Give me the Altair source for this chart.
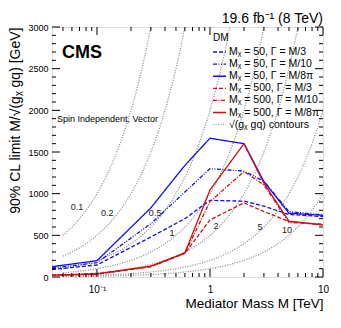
import altair as alt
import pandas as pd

W, H = 271, 250
FONT = "Liberation Sans"

# ---- data ----
mass = [0.04, 0.1, 0.3, 0.6, 1.0, 2.0, 3.0, 5.0, 10.0]
blue_w3 = [90, 144, 480, 700, 920, 910, 850, 750, 725]
blue_w10 = [108, 172, 640, 1020, 1300, 1270, 1150, 785, 745]
blue_w8pi = [124, 196, 830, 1340, 1665, 1600, 1145, 765, 740]
red_w3 = [20, 34, 124, 284, 685, 890, 785, 665, 625]
red_w10 = [20, 36, 126, 286, 905, 1265, 1105, 655, 635]
red_w8pi = [22, 38, 130, 290, 1045, 1600, 1125, 670, 625]

series_names = [
    "Mᵪ = 50, Γ = M/3",
    "Mᵪ = 50, Γ = M/10",
    "Mᵪ = 50, Γ = M/8π",
    "Mᵪ = 500, Γ = M/3",
    "Mᵪ = 500, Γ = M/10",
    "Mᵪ = 500, Γ = M/8π",
    "√(gᵪ gq) contours",
]
series_values = [blue_w3, blue_w10, blue_w8pi, red_w3, red_w10, red_w8pi]
colors = ["#1010e8", "#1010e8", "#1010e8", "#d01010", "#d01010", "#d01010", "#8a8a8a"]
dashes = [[4, 2], [4, 1.5, 1, 1.5, 1, 1.5], [1, 0], [4, 2], [4, 1.5, 1, 1.5], [1, 0], [1, 1.5]]
widths = [1.3, 1.3, 1.6, 1.3, 1.3, 1.6, 0.8]

contour_g = [0.1, 0.2, 0.5, 1, 2, 5, 10]
contour_text = ["0.1", "0.2", "0.5", "1", "2", "5", "10"]
contour_label_m = [0.0665, 0.123, 0.327, 0.461, 1.13, 2.77, 4.8]
contour_label_v = [840, 768, 768, 528, 612, 600, 564]

x_major = [0.1, 1, 10]
x_minor = [0.05, 0.06, 0.07, 0.08, 0.09, 0.2, 0.3, 0.4, 0.5, 0.6, 0.7, 0.8, 0.9,
           2, 3, 4, 5, 6, 7, 8, 9]
y_major = [0, 500, 1000, 1500, 2000, 2500, 3000]
y_minor = [v for v in range(0, 3001, 100) if v % 500 != 0]

# ---- tables ----
rows = []
for name, vals in zip(series_names[:6], series_values):
    for m, v in zip(mass, vals):
        rows.append({"M": m, "limit": v, "series": name})
curves = pd.DataFrame(rows)
contours = pd.DataFrame({"g": contour_g})
clabels = pd.DataFrame({"M": contour_label_m, "limit": contour_label_v, "txt": contour_text})

xscale = alt.Scale(type="log", domain=[0.04, 10], nice=False)
yscale = alt.Scale(domain=[0, 3000], nice=False, zero=False)

x_axis = alt.Axis(values=x_major, labelExpr="datum.value < 0.5 ? '10⁻¹' : (datum.value < 5 ? '1' : '10')",
                  ticks=False, domain=False, grid=False, labelFlush=False,
                  labelFontSize=10, labelPadding=7, labelFont=FONT, labelColor="black",
                  title="Mediator Mass M [TeV]", titleAnchor="end", titleFontSize=13.5,
                  titleFontWeight="normal", titleFont=FONT, titleColor="black",
                  titleY=30, titleBaseline="alphabetic")
y_axis = alt.Axis(values=y_major, format="d", ticks=False, domain=False, grid=False, labelFlush=False,
                  labelFontSize=9, labelPadding=4, labelFont=FONT, labelColor="black",
                  title="90% CL limit M/√(gᵪ gq) [GeV]", titleAnchor="end", titleFontSize=14,
                  titleFontWeight="normal", titleFont=FONT, titleColor="black",
                  titleX=-30)

def X(field="M"):
    return alt.X(f"{field}:Q", scale=xscale, axis=x_axis)

def Y(field="limit"):
    return alt.Y(f"{field}:Q", scale=yscale, axis=y_axis)

color = alt.Color("series:N", scale=alt.Scale(domain=series_names, range=colors), legend=None)
dash = alt.StrokeDash("series:N", scale=alt.Scale(domain=series_names, range=dashes), legend=None)
width = alt.StrokeWidth("series:N", scale=alt.Scale(domain=series_names, range=widths), legend=None)

contour_layer = alt.Chart(contours).transform_calculate(
    t="sequence(0, 101)"
).transform_flatten(["t"]).transform_calculate(
    M="0.05 * pow(200, datum.t / 100)",
    limit="1000 * datum.M / datum.g",
    series="'" + series_names[6] + "'",
).mark_line(clip=True).encode(
    x=X(), y=Y(), color=color, strokeDash=dash, strokeWidth=width, detail="g:N",
    order="t:Q",
)

curve_layer = alt.Chart(curves).mark_line(clip=True).encode(
    x=X(), y=Y(), color=color, strokeDash=dash, strokeWidth=width,
)

label_layer = alt.Chart(clabels).mark_text(font=FONT, fontSize=9, color="#222", align="center",
                                           baseline="middle").encode(x=X(), y=Y(), text="txt:N")

xmaj = pd.DataFrame({"M": x_major})
xmin = pd.DataFrame({"M": x_minor})
ymaj = pd.DataFrame({"limit": y_major})
ymin = pd.DataFrame({"limit": y_minor})

def xticks(df, ln):
    base = alt.Chart(df).mark_rule(color="black", strokeWidth=1)
    return [base.encode(x=X(), y=alt.value(H), y2=alt.value(H - ln)),
            base.encode(x=X(), y=alt.value(0), y2=alt.value(ln))]

def yticks(df, ln):
    base = alt.Chart(df).mark_rule(color="black", strokeWidth=1)
    return [base.encode(y=Y(), x=alt.value(0), x2=alt.value(ln)),
            base.encode(y=Y(), x=alt.value(W), x2=alt.value(W - ln))]

one = pd.DataFrame({"a": [0]})

def txt(text, x, y, size=9, weight="normal", align="left", baseline="middle"):
    return alt.Chart(one).mark_text(text=text, font=FONT, fontSize=size, fontWeight=weight,
                                    align=align, baseline=baseline, color="black").encode(
        x=alt.value(x), y=alt.value(y))

# manual legend
LEG_X0, LEG_X1, LEG_TX, LEG_Y0, LEG_DY = 161, 174, 177, 25, 12.1
legend_layers = [txt("DM", LEG_X0, 11, size=10)]
for i, name in enumerate(series_names):
    yy = LEG_Y0 + LEG_DY * i
    legend_layers.append(
        alt.Chart(one).mark_rule(color=colors[i], strokeDash=dashes[i], strokeWidth=widths[i] if i < 6 else 1)
        .encode(x=alt.value(LEG_X0), x2=alt.value(LEG_X1), y=alt.value(yy))
    )
    legend_layers.append(txt(name, LEG_TX, yy, size=10.5))

layers = [contour_layer, curve_layer, label_layer]
layers += xticks(xmaj, 8) + xticks(xmin, 4) + yticks(ymaj, 8) + yticks(ymin, 4)
layers += [
    txt("19.6 fb⁻¹ (8 TeV)", W, -4, size=14, align="right", baseline="alphabetic"),
    txt("CMS", 10, 31, size=18, weight="bold", baseline="alphabetic"),
    txt("Spin Independent, Vector", 5, 92, size=9),
]
layers += legend_layers

chart = alt.layer(*layers).properties(
    width=W, height=H,
    autosize=alt.AutoSizeParams(type="none"),
    padding={"left": 44, "top": 19, "right": 10, "bottom": 43},
).configure_view(stroke="black", strokeWidth=1.2).configure(background="white")

chart.save("out.html", embed_options={"renderer": "svg", "actions": False})
